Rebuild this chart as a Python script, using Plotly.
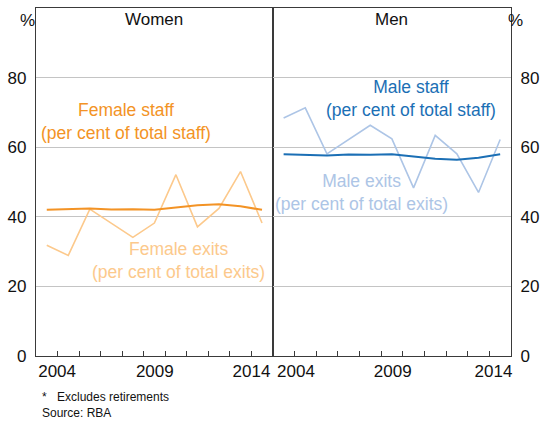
import plotly.graph_objects as go

# ---- data ----
years = [2004, 2005, 2006, 2007, 2008, 2009, 2010, 2011, 2012, 2013, 2014]
female_staff = [42.0, 42.2, 42.4, 42.1, 42.2, 42.0, 42.7, 43.3, 43.6, 43.0, 42.0]
female_exits = [31.8, 28.9, 42.2, 38.2, 34.1, 38.2, 52.1, 37.1, 42.4, 53.0, 38.2]
male_staff = [58.0, 57.8, 57.6, 57.9, 57.8, 58.0, 57.3, 56.7, 56.4, 57.0, 58.0]
male_exits = [68.4, 71.3, 58.1, 62.2, 66.3, 62.4, 48.3, 63.4, 58.1, 47.0, 62.2]
year_labels = ["2004", "2009", "2014"]
y_ticks = [0, 20, 40, 60, 80]

# plotted at mid-year
xmid = [y + 0.5 for y in years]
tick_years = [y + 1 for y in years[:-1]]

FONT = "Liberation Sans, Arial, sans-serif"
C_FS = "#F39325"
C_FE = "#FCC98C"
C_MS = "#1B6FB5"
C_ME = "#ADC5E6"
FRAME = "#3a3a3a"
GRID = "#C4C4C4"

fig = go.Figure()
fig.add_trace(go.Scatter(x=xmid, y=female_exits, mode="lines", line=dict(color=C_FE, width=1.6),
                         xaxis="x", yaxis="y", showlegend=False))
fig.add_trace(go.Scatter(x=xmid, y=female_staff, mode="lines", line=dict(color=C_FS, width=2),
                         xaxis="x", yaxis="y", showlegend=False))
fig.add_trace(go.Scatter(x=xmid, y=male_exits, mode="lines", line=dict(color=C_ME, width=1.6),
                         xaxis="x2", yaxis="y2", showlegend=False))
fig.add_trace(go.Scatter(x=xmid, y=male_staff, mode="lines", line=dict(color=C_MS, width=2),
                         xaxis="x2", yaxis="y2", showlegend=False))

split = 0.4985
xr = [2004, 2015]
common_x = dict(range=xr, showgrid=False, zeroline=False, showline=True, mirror=True,
                linecolor=FRAME, linewidth=1.3, ticks="inside", ticklen=5, tickwidth=1,
                tickcolor=FRAME, tickvals=tick_years, showticklabels=False, automargin=False)
common_y = dict(range=[0, 100], tickvals=y_ticks, showgrid=True, gridcolor=GRID, gridwidth=1,
                zeroline=False, showline=True, mirror=True, linecolor=FRAME, linewidth=1.3,
                ticks="", ticklabelstandoff=5, automargin=False,
                tickfont=dict(family=FONT, size=17, color="#111"))
label_x = dict(range=xr, showgrid=False, zeroline=False, showline=False, ticks="",
               ticklabelstandoff=3, automargin=False,
               tickfont=dict(family=FONT, size=17, color="#111"))

fig.update_layout(
    width=544, height=422,
    margin=dict(l=36, r=33, t=8, b=66),
    paper_bgcolor="white", plot_bgcolor="white",
    xaxis=dict(domain=[0, split], anchor="y", **common_x),
    xaxis2=dict(domain=[split, 1], anchor="y2", **common_x),
    xaxis3=dict(overlaying="x", anchor="y", tickvals=[2004.98, 2009.52, 2014.01],
                ticktext=year_labels, **label_x),
    xaxis4=dict(overlaying="x2", anchor="y2", tickvals=[2005.07, 2009.54, 2014.19],
                ticktext=year_labels, **label_x),
    yaxis=dict(domain=[0, 1], anchor="x", side="left", **common_y),
    yaxis2=dict(domain=[0, 1], anchor="x2", side="right", **common_y),
)

# invisible traces to register overlay axes
fig.add_trace(go.Scatter(x=[None], y=[None], xaxis="x3", yaxis="y", showlegend=False, hoverinfo="skip"))
fig.add_trace(go.Scatter(x=[None], y=[None], xaxis="x4", yaxis="y2", showlegend=False, hoverinfo="skip"))

ann_font = lambda c, s=17.5: dict(family=FONT, size=s, color=c)
annotations = [
    dict(text="Women", xref="x domain", yref="paper", x=0.5, y=0.968, yanchor="middle",
         showarrow=False, font=ann_font("#111", 17)),
    dict(text="Men", xref="x2 domain", yref="paper", x=0.5, y=0.968, yanchor="middle",
         showarrow=False, font=ann_font("#111", 17)),
    dict(text="%", xref="paper", yref="paper", x=-0.038, y=0.9655, yanchor="middle",
         showarrow=False, font=ann_font("#111", 17)),
    dict(text="%", xref="paper", yref="paper", x=1.0295, y=0.9655, yanchor="middle",
         showarrow=False, font=ann_font("#111", 17)),
    dict(text="Female staff<br>(per cent of total staff)", xref="x", yref="y", x=2008.2, y=67.3,
         yanchor="middle", showarrow=False, font=ann_font(C_FS)),
    dict(text="Female exits<br>(per cent of total exits)", xref="x", yref="y", x=2010.6, y=27.4,
         yanchor="middle", showarrow=False, font=ann_font(C_FE)),
    dict(text="Male staff<br>(per cent of total staff)", xref="x2", yref="y2", x=2010.4, y=74.0,
         yanchor="middle", showarrow=False, font=ann_font(C_MS)),
    dict(text="Male exits<br>(per cent of total exits)", xref="x2", yref="y2", x=2008.1, y=46.9,
         yanchor="middle", showarrow=False, font=ann_font(C_ME)),
    dict(text="*", xref="paper", yref="paper", x=0.0084, y=-0.118, xanchor="left",
         yanchor="middle", showarrow=False, font=ann_font("#111", 12)),
    dict(text="Excludes retirements", xref="paper", yref="paper", x=0.04, y=-0.118,
         xanchor="left", yanchor="middle", showarrow=False, font=ann_font("#111", 12)),
    dict(text="Source: RBA", xref="paper", yref="paper", x=0.0084, y=-0.164,
         xanchor="left", yanchor="middle", showarrow=False, font=ann_font("#111", 12)),
]
fig.update_layout(annotations=annotations)

fig.write_html("out.html", config={"displayModeBar": False},
               post_script="document.body.style.margin='0';")
